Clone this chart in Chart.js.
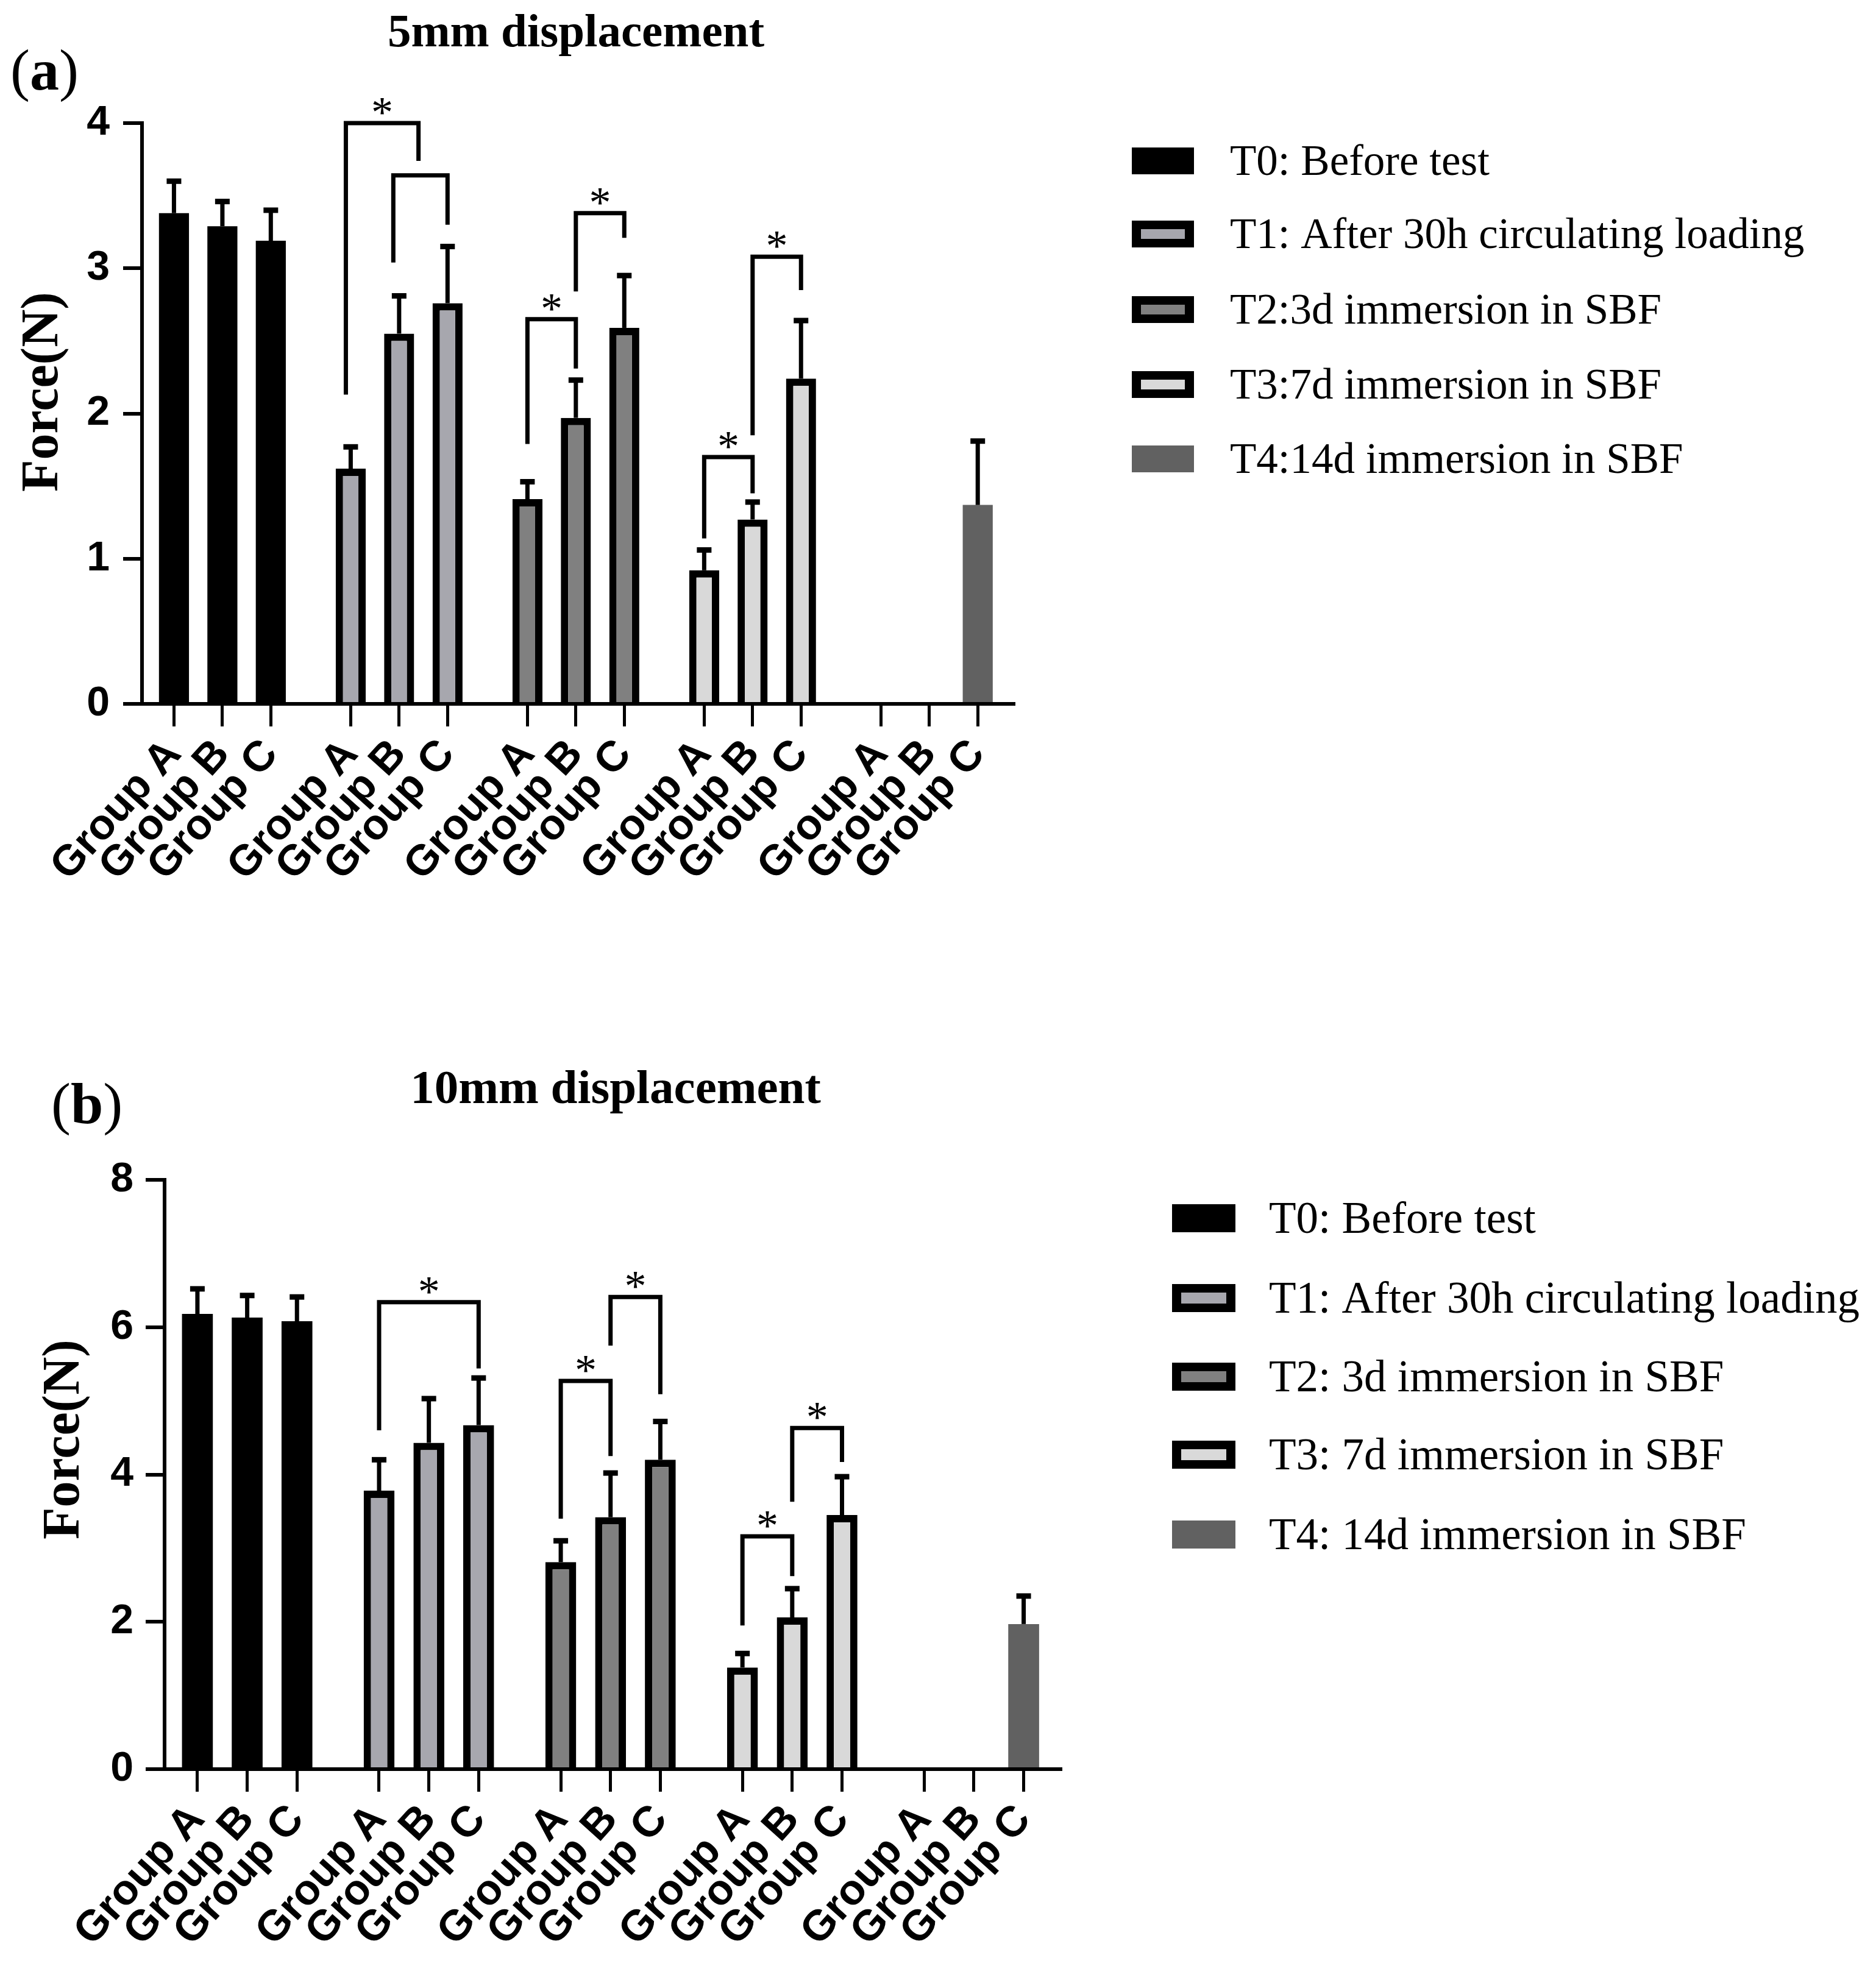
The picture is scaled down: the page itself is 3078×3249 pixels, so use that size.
<!DOCTYPE html>
<html>
<head>
<meta charset="utf-8">
<script src="https://cdn.jsdelivr.net/npm/chart.js@4.4.1/dist/chart.umd.min.js"></script>
<style>
    html, body { margin: 0; padding: 0; background: #ffffff; }
    #wrap { position: relative; width: 3078px; height: 3249px; }
    canvas { position: absolute; left: 0; }
</style>
</head>
<body>
<div id="wrap">
    <canvas id="chartA" width="3078" height="1625" style="top:0px"></canvas>
    <canvas id="chartB" width="3078" height="1624" style="top:1625px"></canvas>
</div>
<script>
const groups = ['Group A', 'Group B', 'Group C'];
const seriesA = ['T0: Before test', 'T1: After 30h circulating loading', 'T2:3d immersion in SBF', 'T3:7d immersion in SBF', 'T4:14d immersion in SBF'];
const seriesB = ['T0: Before test', 'T1: After 30h circulating loading', 'T2: 3d immersion in SBF', 'T3: 7d immersion in SBF', 'T4: 14d immersion in SBF'];
const ticksA = [0, 1, 2, 3, 4];
const ticksB = [0, 2, 4, 6, 8];

// (a) 5mm displacement: mean force and SD
const a_T0 = [3.38, 3.29, 3.19];
const a_T0_sd = [0.22, 0.17, 0.21];
const a_T1 = [1.62, 2.55, 2.76];
const a_T1_sd = [0.15, 0.26, 0.39];
const a_T2 = [1.41, 1.97, 2.59];
const a_T2_sd = [0.12, 0.26, 0.36];
const a_T3 = [0.92, 1.27, 2.24];
const a_T3_sd = [0.14, 0.12, 0.40];
const a_T4 = [null, null, 1.37];
const a_T4_sd = [null, null, 0.44];

// (b) 10mm displacement
const b_T0 = [6.18, 6.13, 6.08];
const b_T0_sd = [0.34, 0.30, 0.33];
const b_T1 = [3.78, 4.43, 4.67];
const b_T1_sd = [0.42, 0.60, 0.64];
const b_T2 = [2.81, 3.42, 4.20];
const b_T2_sd = [0.29, 0.60, 0.52];
const b_T3 = [1.38, 2.06, 3.45];
const b_T3_sd = [0.19, 0.39, 0.52];
const b_T4 = [null, null, 1.97];
const b_T4_sd = [null, null, 0.38];

// significance brackets: time point, from/to slot (0..2), top, leg ends
const bracketsA = [
    { g: 1, from: -0.1, to: 1.4, top: 4.0, leftEnd: 2.13, rightEnd: 3.74, star: true },
    { g: 1, from: 0.88, to: 2.0, top: 3.64, leftEnd: 3.04, rightEnd: 3.30, star: false },
    { g: 2, from: 0, to: 1, top: 2.65, leftEnd: 1.79, rightEnd: 2.31, star: true },
    { g: 2, from: 1, to: 2, top: 3.38, leftEnd: 2.84, rightEnd: 3.21, star: true },
    { g: 3, from: 0, to: 1, top: 1.70, leftEnd: 1.14, rightEnd: 1.45, star: true },
    { g: 3, from: 1, to: 2, top: 3.08, leftEnd: 1.85, rightEnd: 2.85, star: true }
];
const bracketsB = [
    { g: 1, from: 0, to: 2, top: 6.34, leftEnd: 4.60, rightEnd: 5.44, star: true },
    { g: 2, from: 0, to: 1, top: 5.27, leftEnd: 3.40, rightEnd: 4.25, star: true },
    { g: 2, from: 1, to: 2, top: 6.41, leftEnd: 5.75, rightEnd: 5.09, star: true },
    { g: 3, from: 0, to: 1, top: 3.16, leftEnd: 1.95, rightEnd: 2.62, star: true },
    { g: 3, from: 1, to: 2, top: 4.63, leftEnd: 3.63, rightEnd: 4.17, star: true }
];

const GROUP_STEP = 3.65;
const seriesStyles = [
    { fill: '#000000', borderWidth: 0 },
    { fill: '#a7a7ae', borderWidth: 12 },
    { fill: '#808080', borderWidth: 12 },
    { fill: '#d9d9d9', borderWidth: 12 },
    { fill: '#616161', borderWidth: 0 }
];

function slotX(g, offset)
{
    return g * GROUP_STEP + offset;
}

const slotPositions = [];
for (let g = 0; g < 5; g++)
{
    for (let i = 0; i < 3; i++)
    {
        slotPositions.push(slotX(g, i));
    }
}

const errorBarPlugin = {
    id: 'errorBars',
    afterDatasetsDraw: function (chart)
    {
        const ctx = chart.ctx;
        const yScale = chart.scales.y;
        ctx.save();
        ctx.strokeStyle = '#000000';
        chart.data.datasets.forEach(function (ds, di)
        {
            const meta = chart.getDatasetMeta(di);
            meta.data.forEach(function (bar, i)
            {
                const v = ds.data[i].y;
                const sd = ds.errors[i];
                if (v == null || sd == null) return;
                const top = yScale.getPixelForValue(v + sd);
                ctx.lineWidth = 7;
                ctx.beginPath();
                ctx.moveTo(bar.x, bar.y);
                ctx.lineTo(bar.x, top);
                ctx.stroke();
                ctx.lineWidth = 9;
                ctx.beginPath();
                ctx.moveTo(bar.x - 12, top);
                ctx.lineTo(bar.x + 12, top);
                ctx.stroke();
            });
        });
        ctx.restore();
    }
};

const bracketPlugin = {
    id: 'sigBrackets',
    afterDatasetsDraw: function (chart, args, opts)
    {
        const ctx = chart.ctx;
        const xs = chart.scales.x;
        const ys = chart.scales.y;
        ctx.save();
        ctx.strokeStyle = '#000000';
        ctx.fillStyle = '#000000';
        ctx.lineWidth = 7;
        ctx.lineJoin = 'miter';
        ctx.font = '72px "Liberation Serif"';
        ctx.textAlign = 'center';
        ctx.textBaseline = 'alphabetic';
        (opts.items || []).forEach(function (b)
        {
            const x1 = xs.getPixelForValue(slotX(b.g, b.from));
            const x2 = xs.getPixelForValue(slotX(b.g, b.to));
            const yt = ys.getPixelForValue(b.top);
            ctx.beginPath();
            ctx.moveTo(x1, ys.getPixelForValue(b.leftEnd));
            ctx.lineTo(x1, yt);
            ctx.lineTo(x2, yt);
            ctx.lineTo(x2, ys.getPixelForValue(b.rightEnd));
            ctx.stroke();
            if (b.star)
            {
                ctx.fillText('*', (x1 + x2) / 2, yt + 6);
            }
        });
        ctx.restore();
    }
};

const panelTextPlugin = {
    id: 'panelText',
    afterDraw: function (chart, args, opts)
    {
        const ctx = chart.ctx;
        ctx.save();
        ctx.fillStyle = '#000000';
        ctx.textBaseline = 'alphabetic';

        // panel letter, e.g. "(a)"
        ctx.textAlign = 'left';
        let x = opts.letterX;
        ctx.font = '96px "Liberation Serif"';
        ctx.fillText('(', x, opts.letterY);
        x += ctx.measureText('(').width;
        ctx.font = 'bold 96px "Liberation Serif"';
        ctx.fillText(opts.letter, x, opts.letterY);
        x += ctx.measureText(opts.letter).width;
        ctx.font = '96px "Liberation Serif"';
        ctx.fillText(')', x, opts.letterY);

        ctx.textAlign = 'center';
        ctx.font = 'bold ' + opts.titleSize + 'px "Liberation Serif"';
        ctx.fillText(opts.title, opts.titleX, opts.titleY);

        // y axis title
        ctx.save();
        ctx.translate(opts.yTitleX, opts.yTitleY);
        ctx.rotate(-Math.PI / 2);
        ctx.textBaseline = 'middle';
        ctx.font = 'bold 86px "Liberation Serif"';
        ctx.fillText('Force(N)', 0, 0);
        ctx.restore();

        // legend
        ctx.textAlign = 'left';
        ctx.font = opts.legendSize + 'px "Liberation Serif"';
        chart.data.datasets.forEach(function (ds, i)
        {
            const st = seriesStyles[i];
            const cy = opts.legendY[i];
            const bx = opts.legendBoxX;
            const by = cy - opts.boxH / 2;
            if (st.borderWidth > 0)
            {
                ctx.fillStyle = '#000000';
                ctx.fillRect(bx, by, opts.boxW, opts.boxH);
                ctx.fillStyle = st.fill;
                ctx.fillRect(bx + 15, by + 14, opts.boxW - 30, opts.boxH - 28);
            }
            else
            {
                ctx.fillStyle = st.fill;
                ctx.fillRect(bx, by, opts.boxW, opts.boxH);
            }
            ctx.fillStyle = '#000000';
            ctx.fillText(ds.label, opts.legendTextX, cy + opts.legendSize * 0.33);
        });
        ctx.restore();
    }
};

window.ForceChart =
{
    charts: [],

    init: function (panel)
    {
        ForceChart.charts.push(ForceChart.displayChart(panel));
    },

    displayChart: function (panel)
    {
        const ctx = document.getElementById(panel.canvasId).getContext('2d');
        const lay = panel.layout;

        const datasets = panel.series.map(function (label, g)
        {
            const st = seriesStyles[g];
            return {
                label: label,
                data: groups.map(function (name, i)
                {
                    return { x: slotX(g, i), y: panel.means[g][i] };
                }),
                errors: panel.sds[g],
                backgroundColor: st.fill,
                borderColor: '#000000',
                borderWidth: st.borderWidth,
                borderSkipped: 'start',
                barPercentage: 0.62,
                categoryPercentage: 1.0
            };
        });

        return new Chart(ctx, {
            type: 'bar',
            data: { datasets: datasets },
            plugins: [errorBarPlugin, bracketPlugin, panelTextPlugin],
            options: {
                responsive: false,
                animation: false,
                devicePixelRatio: 1,
                events: [],
                layout: {
                    padding: { left: lay.left, top: lay.top, right: lay.right, bottom: 0 }
                },
                scales: {
                    x: {
                        type: 'linear',
                        offset: false,
                        min: -0.66,
                        max: 4 * GROUP_STEP + 2 + 0.74,
                        stacked: true,
                        afterBuildTicks: function (scale)
                        {
                            scale.ticks = slotPositions.map(function (v) { return { value: v }; });
                        },
                        afterFit: function (scale)
                        {
                            scale.height = lay.xAxisHeight;
                        },
                        ticks: {
                            autoSkip: false,
                            minRotation: 48,
                            maxRotation: 48,
                            padding: 6,
                            color: '#000000',
                            font: { family: '"Liberation Sans"', weight: 'bold', size: 70 },
                            callback: function (value, index)
                            {
                                return groups[index % 3];
                            }
                        },
                        grid: {
                            offset: false,
                            drawOnChartArea: false,
                            tickLength: 37,
                            lineWidth: 5,
                            color: '#000000'
                        },
                        border: { display: true, color: '#000000', width: 6 }
                    },
                    y: {
                        min: 0,
                        max: panel.yTicks[panel.yTicks.length - 1],
                        stacked: true,
                        afterBuildTicks: function (scale)
                        {
                            scale.ticks = panel.yTicks.map(function (v) { return { value: v }; });
                        },
                        afterFit: function (scale)
                        {
                            scale.width = lay.yAxisWidth;
                        },
                        ticks: {
                            padding: lay.yTickPad,
                            color: '#000000',
                            font: { family: '"Liberation Sans"', weight: 'bold', size: 68 }
                        },
                        grid: {
                            drawOnChartArea: false,
                            tickLength: 31,
                            lineWidth: 6,
                            color: '#000000'
                        },
                        border: { display: true, color: '#000000', width: 6 }
                    }
                },
                plugins: {
                    legend: { display: false },
                    tooltip: { enabled: false },
                    sigBrackets: { items: panel.brackets },
                    panelText: panel.text
                }
            }
        });
    }
};

ForceChart.init({
    canvasId: 'chartA',
    series: seriesA,
    means: [a_T0, a_T1, a_T2, a_T3, a_T4],
    sds: [a_T0_sd, a_T1_sd, a_T2_sd, a_T3_sd, a_T4_sd],
    yTicks: ticksA,
    brackets: bracketsA,
    layout: { left: 0, top: 202, right: 1415, yAxisWidth: 233, xAxisHeight: 470, yTickPad: 22 },
    text: {
        letter: 'a', letterX: 17, letterY: 147,
        title: '5mm displacement', titleSize: 77, titleX: 945, titleY: 76,
        yTitleX: 72, yTitleY: 643,
        legendBoxX: 1857, legendTextX: 2018, legendY: [264, 384, 508, 631, 753],
        legendSize: 71, boxW: 102, boxH: 44
    }
});

ForceChart.init({
    canvasId: 'chartB',
    series: seriesB,
    means: [b_T0, b_T1, b_T2, b_T3, b_T4],
    sds: [b_T0_sd, b_T1_sd, b_T2_sd, b_T3_sd, b_T4_sd],
    yTicks: ticksB,
    brackets: bracketsB,
    layout: { left: 35, top: 311, right: 1338, yAxisWidth: 235, xAxisHeight: 346, yTickPad: 20 },
    text: {
        letter: 'b', letterX: 84, letterY: 218,
        title: '10mm displacement', titleSize: 79, titleX: 1010, titleY: 185,
        yTitleX: 107, yTitleY: 737,
        legendBoxX: 1923, legendTextX: 2082, legendY: [374, 505, 634, 762, 893],
        legendSize: 73, boxW: 104, boxH: 46
    }
});
</script>
</body>
</html>
